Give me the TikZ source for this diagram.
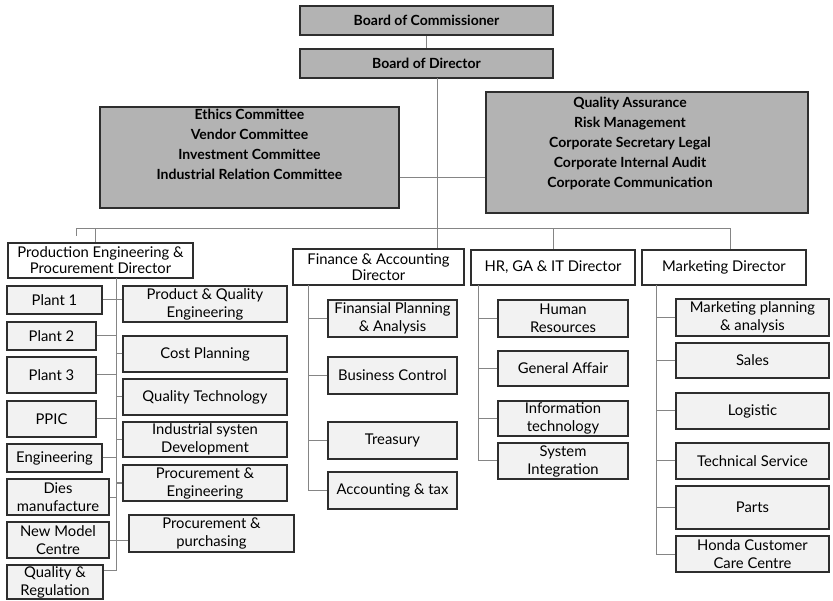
\documentclass[tikz,border=0pt]{standalone}
\usepackage{fontspec}
\setmainfont{Lato}

\definecolor{boardgray}{HTML}{B3B3B3}
\definecolor{unitfill}{HTML}{F2F2F2}
\definecolor{edgegray}{HTML}{2E2E2E}
\definecolor{wiregray}{HTML}{858585}

\tikzset{
    topbox/.style={draw=edgegray, fill=boardgray, line width=1.3, inner sep=1,
        align=center, font=\fontsize{14}{20}\selectfont\bfseries},
    dirbox/.style={draw=edgegray, fill=white, line width=1.2, inner sep=1,
        align=center, font=\fontsize{14.8}{16}\selectfont},
    unitbox/.style={draw=edgegray, fill=unitfill, line width=1.2, inner sep=1,
        align=center, font=\fontsize{14.8}{18}\selectfont},
    wire/.style={draw=wiregray, line width=1},
}

\begin{document}
\begin{tikzpicture}[x=1pt, y=-1pt]
    \useasboundingbox (0,0) rectangle (833,601);

    % boards and committees
    \node[topbox, minimum width=253, minimum height=29] (boc) at (426.5,20.5) {Board of Commissioner};
    \node[topbox, minimum width=253, minimum height=29] (bod) at (426.5,63.5) {Board of Director};
    \node[topbox, minimum width=299, minimum height=101] (comm) at (249.5,157.5)
        {Ethics Committee\\Vendor Committee\\Investment Committee\\Industrial Relation Committee\\[7pt]\mbox{}};
    \node[topbox, minimum width=322, minimum height=121, inner sep=0] (qa) at (647,152.5)
        {\begin{tabular}{@{}c@{\hspace{34pt}}}
            Quality Assurance\\Risk Management\\Corporate Secretary Legal\\
            Corporate Internal Audit\\Corporate Communication\\[-2pt]\mbox{}
        \end{tabular}};

    % directors
    \node[dirbox, minimum width=185, minimum height=35] (pepd) at (100.5,260.5) {Production Engineering \&\\Procurement Director};
    \node[dirbox, minimum width=171, minimum height=36] (fad) at (378.5,267) {Finance \& Accounting\\Director};
    \node[dirbox, minimum width=164, minimum height=35] (hrd) at (553,267.5) {HR, GA \& IT Director};
    \node[dirbox, minimum width=164, minimum height=35] (mkd) at (724,267.5) {Marketing Director};

    % production: plants
    \node[unitbox, minimum width=95, minimum height=28] (plantA) at (54.5,300) {Plant 1};
    \node[unitbox, minimum width=89, minimum height=28] (plantB) at (51.5,336) {Plant 2};
    \node[unitbox, minimum width=89, minimum height=36] (plantC) at (51.5,375) {Plant 3};
    \node[unitbox, minimum width=89, minimum height=36] (ppic) at (51.5,419) {PPIC};
    \node[unitbox, minimum width=95, minimum height=28] (eng) at (54.5,458) {Engineering};
    \node[unitbox, minimum width=102, minimum height=36] (dies) at (58,497) {Dies\\manufacture};
    \node[unitbox, minimum width=102, minimum height=36] (nmc) at (58,540) {New Model\\Centre};
    \node[unitbox, minimum width=96, minimum height=34] (qreg) at (55,582) {Quality \&\\Regulation};

    % production: departments
    \node[unitbox, minimum width=164, minimum height=36] (pqe) at (205,304) {Product \& Quality\\Engineering};
    \node[unitbox, minimum width=164, minimum height=36] (cpl) at (205,354) {Cost Planning};
    \node[unitbox, minimum width=164, minimum height=36] (qtc) at (205,397) {Quality Technology};
    \node[unitbox, minimum width=164, minimum height=35] (isd) at (205,439.5) {Industrial systen\\Development};
    \node[unitbox, minimum width=164, minimum height=36] (pen) at (205,483) {Procurement \&\\Engineering};
    \node[unitbox, minimum width=165, minimum height=37] (ppu) at (211.5,533.5) {Procurement \&\\purchasing};

    % finance
    \node[unitbox, minimum width=129, minimum height=37] (fpa) at (392.5,318.5) {Finansial Planning\\\& Analysis};
    \node[unitbox, minimum width=129, minimum height=37] (bcn) at (392.5,375.5) {Business Control};
    \node[unitbox, minimum width=129, minimum height=37] (tre) at (392.5,440.5) {Treasury};
    \node[unitbox, minimum width=129, minimum height=37] (act) at (392.5,490.5) {Accounting \& tax};

    % hr, ga & it
    \node[unitbox, minimum width=130, minimum height=37] (hum) at (563,318.5) {Human\\Resources};
    \node[unitbox, minimum width=130, minimum height=35] (gaf) at (563,368.5) {General Affair};
    \node[unitbox, minimum width=130, minimum height=35] (itc) at (563,418.5) {Information\\technology};
    \node[unitbox, minimum width=130, minimum height=36] (sys) at (563,461) {System\\Integration};

    % marketing
    \node[unitbox, minimum width=153, minimum height=37] (mpa) at (752.5,317.5) {Marketing planning\\\& analysis};
    \node[unitbox, minimum width=153, minimum height=35] (sal) at (752.5,360.5) {Sales};
    \node[unitbox, minimum width=153, minimum height=36] (lgs) at (752.5,411) {Logistic};
    \node[unitbox, minimum width=153, minimum height=36] (tsv) at (752.5,461) {Technical Service};
    \node[unitbox, minimum width=153, minimum height=43] (prt) at (752.5,507.5) {Parts};
    \node[unitbox, minimum width=153, minimum height=36] (hcc) at (752.5,554) {Honda Customer\\Care Centre};

    % trunk and bus
    \coordinate (trunk) at (437,78);
    \coordinate (busL) at (76,229);
    \coordinate (busR) at (730,229);
    \coordinate (hook) at (76,236);
    \coordinate (pdrop) at (95,229);
    \coordinate (hdrop) at (553,229);
    \coordinate (pspine) at (116,278);
    \coordinate (pend) at (116,570);
    \coordinate (fspine) at (308,285);
    \coordinate (hspine) at (478,285);
    \coordinate (mspine) at (656,285);

    \draw[wire] (boc) -- (bod);
    \draw[wire] (trunk) -- (trunk |- fad.north);
    \draw[wire] (comm.east |- 0,178) -- (qa.west |- 0,178);
    \draw[wire] (hook) -- (busL) -- (busR) -- (busR |- mkd.north);
    \draw[wire] (pdrop) -- (pdrop |- pepd.north);
    \draw[wire] (hdrop) -- (hrd.north);

    % production spine
    \draw[wire] (pspine) -- (pend) -- (pend -| qreg.east);
    \draw[wire] (plantA.east) -- (plantA.east -| pqe.west);
    \draw[wire] (nmc.east) -- (nmc.east -| ppu.west);
    \foreach \u in {plantB,plantC,ppic,eng,dies}{
        \draw[wire] (\u.east) -- (\u.east -| pspine);
    }
    \foreach \u in {cpl,qtc,isd,pen}{
        \draw[wire] (\u.west) -- (\u.west -| pspine);
    }

    % other spines
    \draw[wire] (fspine) -- (fspine |- act.west) -- (act.west);
    \foreach \u in {fpa,bcn,tre}{
        \draw[wire] (\u.west) -- (\u.west -| fspine);
    }
    \draw[wire] (hspine) -- (hspine |- sys.west) -- (sys.west);
    \foreach \u in {hum,gaf,itc}{
        \draw[wire] (\u.west) -- (\u.west -| hspine);
    }
    \draw[wire] (mspine) -- (mspine |- hcc.west) -- (hcc.west);
    \foreach \u in {mpa,sal,lgs,tsv,prt}{
        \draw[wire] (\u.west) -- (\u.west -| mspine);
    }
\end{tikzpicture}
\end{document}
